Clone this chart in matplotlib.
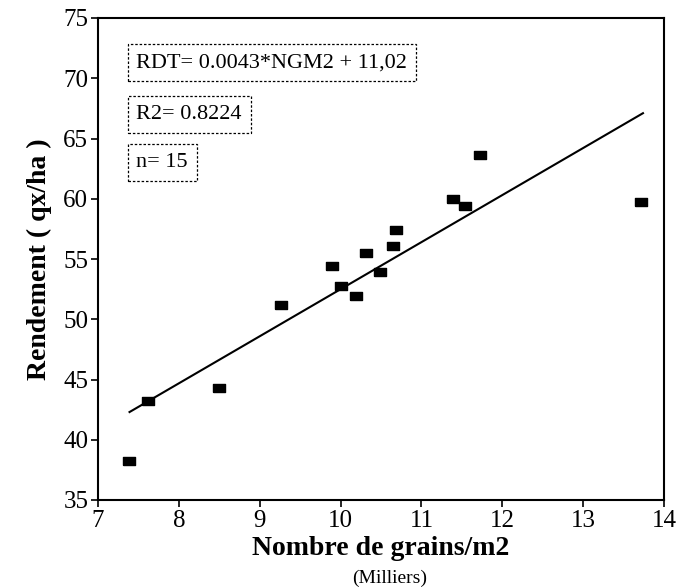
import matplotlib.pyplot as plt
import matplotlib
matplotlib.use("Agg")

# grains per m2 (thousands) vs yield (qx/ha)
ngm2 = [7.38, 7.62, 8.50, 9.26, 9.89, 10.00, 10.19, 10.32,
        10.49, 10.65, 10.68, 11.39, 11.54, 11.72, 13.72]
rdt = [38.2, 43.2, 44.3, 51.2, 54.4, 52.8, 51.9, 55.5,
       53.9, 56.1, 57.4, 60.0, 59.4, 63.6, 59.7]

# regression line endpoints as drawn
fit_x = [7.39, 13.74]
fit_y = [42.3, 67.1]

x_ticks = [7, 8, 9, 10, 11, 12, 13, 14]
y_ticks = [35, 40, 45, 50, 55, 60, 65, 70, 75]

stats_text = ["RDT= 0.0043*NGM2 + 11,02", "R2= 0.8224", "n= 15"]

plt.rcParams['font.family'] = ['Liberation Serif', 'DejaVu Serif']

fig = plt.figure(figsize=(6.78, 5.88), dpi=100)
ax = fig.add_axes([98 / 678, 88 / 588, 566 / 678, 482 / 588])

# wide flat rectangle marker
rect = [(-1, -0.7), (1, -0.7), (1, 0.7), (-1, 0.7), (-1, -0.7)]
ax.plot(ngm2, rdt, linestyle='none', marker=rect, ms=8.5, color='black')
ax.plot(fit_x, fit_y, color='black', linewidth=1.5)

ax.set_xlim(7, 14)
ax.set_ylim(35, 75)
ax.set_xticks(x_ticks)
ax.set_yticks(y_ticks)
ax.tick_params(direction='out', length=5, width=1.2, labelsize=18, pad=2)
for s in ax.spines.values():
    s.set_linewidth(1.5)

ax.set_xlabel("Nombre de grains/m2", fontsize=20, fontweight='bold', labelpad=3)
ax.set_ylabel("Rendement ( qx/ha )", fontsize=20, fontweight='bold', labelpad=8)
fig.text(0.5 * (98 + 664) / 678 + 0.012, 10 / 588, "(Milliers)", fontsize=14,
         ha='center', va='center')

box = dict(boxstyle='square,pad=0.4', facecolor='white', edgecolor='black',
           linestyle=(0, (2, 1.5)), linewidth=0.9)
ypos = [0.907, 0.8, 0.7]
for t, yp in zip(stats_text, ypos):
    ax.text(0.068, yp, t, transform=ax.transAxes, fontsize=16,
            ha='left', va='center', bbox=box)

fig.savefig("out.png", dpi=100)
